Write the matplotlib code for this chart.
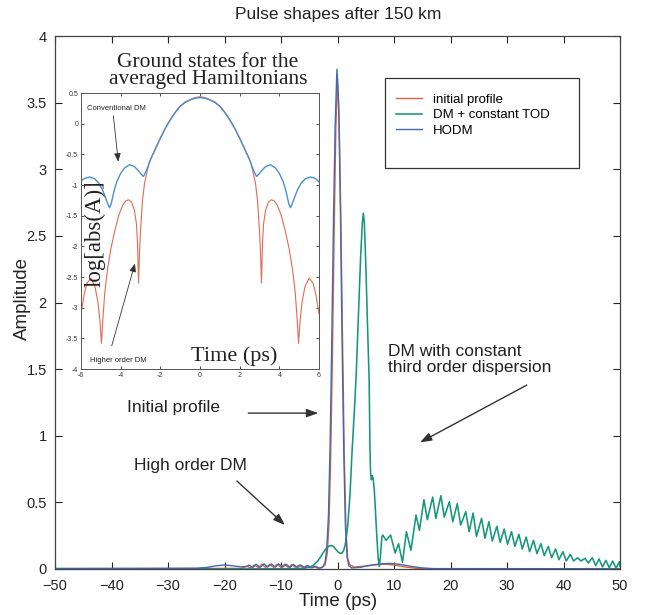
import matplotlib
matplotlib.use("Agg")
import matplotlib.pyplot as plt
from matplotlib.patches import Rectangle

# ---------------- main plot data ----------------
red_t = [-50, -30, -17, -16, -15.4, -14.7, -14.0, -13.4, -12.7, -12.0, -11.3, -10.7, -10.0,
         -9.4, -8.7, -8.1, -7.4, -6.8, -6.1, -5.5, -4.8, -4.2, -3.5, -2.8, -2.2, -1.8, -1.5,
         -1.2, -0.9, -0.6, -0.3, 0.0, 0.3, 0.6, 0.9, 1.2, 1.5, 1.8, 2.2, 3, 5, 7, 8.5, 10,
         12, 14, 16, 50]
red_a = [0.003, 0.003, 0.005, 0.02, 0.008, 0.03, 0.01, 0.035, 0.012, 0.035, 0.012, 0.035, 0.012,
         0.035, 0.012, 0.033, 0.012, 0.03, 0.01, 0.025, 0.008, 0.02, 0.005, 0.01, 0.03, 0.12, 0.35,
         0.85, 1.6, 2.5, 3.3, 3.68, 3.35, 2.6, 1.7, 0.85, 0.3, 0.08, 0.03, 0.015, 0.022, 0.032, 0.036, 0.03,
         0.015, 0.005, 0.002, 0.002]

blue_t = [-50, -25, -23, -21.5, -20, -18.5, -17, -16, -15.7, -15.0, -14.4, -13.7, -13.0, -12.4,
          -11.7, -11.0, -10.4, -9.7, -9.1, -8.4, -7.8, -7.1, -6.5, -5.8, -5.2, -4.5, -3.9, -3.2,
          -2.6, -2.2, -1.9, -1.6, -1.3, -1.0, -0.7, -0.4, -0.1, 0.2, 0.5, 0.8, 1.1, 1.4, 1.7,
          2.0, 2.5, 4, 6, 8, 9.5, 11, 13, 15, 17, 50]
blue_a = [0.004, 0.006, 0.012, 0.024, 0.03, 0.024, 0.016, 0.02, 0.03, 0.012, 0.035, 0.012, 0.038, 0.014,
          0.038, 0.014, 0.038, 0.014, 0.036, 0.012, 0.034, 0.012, 0.03, 0.01, 0.025, 0.008, 0.02, 0.006,
          0.015, 0.05, 0.15, 0.4, 0.95, 1.75, 2.65, 3.35, 3.75, 3.5, 2.75, 1.75, 0.9, 0.32, 0.09,
          0.025, 0.008, 0.012, 0.03, 0.04, 0.042, 0.035, 0.02, 0.008, 0.003, 0.002]

green_t = [-50, -20, -8, -6, -5, -4.2, -3.5, -3.0, -2.5, -2.0, -1.5, -1.1, -0.7, -0.3, 0.1, 0.5,
           0.8, 1.1, 1.4, 1.8, 2.2, 2.6, 3.0, 3.3, 3.7, 4.1, 4.4, 4.57, 4.75, 5.0, 5.3, 5.6, 5.75,
           5.85, 6.0, 6.15, 6.3, 6.5, 6.7, 6.95, 7.2, 7.4, 7.6, 7.85,
           8.0, 8.6, 9.4, 10.2, 10.8, 11.5, 12.2, 13.0, 13.9, 14.5, 15.3, 15.9, 16.85, 17.4,
           18.3, 18.9, 19.8, 20.4, 21.2, 21.8, 22.7, 23.3, 24.0, 24.6, 25.5, 26.1, 26.8, 27.4,
           28.2, 28.8, 29.5, 30.1, 30.8, 31.4, 32.1, 32.7, 33.4, 34.0, 34.7, 35.3, 36.0, 36.6,
           37.3, 37.9, 38.6, 39.2, 39.9, 40.5, 41.2, 41.8, 42.5, 43.1, 43.8, 44.4, 45.1, 45.7,
           46.3, 46.9, 47.5, 48.1, 48.7, 49.3, 49.9, 50.0]
green_a = [0.0, 0.0, 0.002, 0.005, 0.012, 0.03, 0.06, 0.09, 0.125, 0.155, 0.172, 0.176, 0.168, 0.148,
           0.128, 0.118, 0.12, 0.14, 0.19, 0.32, 0.55, 0.9, 1.2, 1.45, 1.9, 2.35, 2.6, 2.67, 2.6, 2.3,
           1.85, 1.42, 0.9, 0.72, 0.67, 0.7, 0.68, 0.6, 0.45, 0.25, 0.08, 0.02, 0.1, 0.24,
           0.255, 0.215, 0.255, 0.12, 0.19, 0.05, 0.28, 0.14, 0.405, 0.29, 0.52, 0.37, 0.54, 0.38,
           0.55, 0.39, 0.505, 0.355, 0.49, 0.33, 0.43, 0.28, 0.42, 0.245, 0.38, 0.23, 0.355, 0.21,
           0.32, 0.2, 0.3, 0.185, 0.28, 0.17, 0.26, 0.15, 0.24, 0.13, 0.215, 0.115, 0.19, 0.1,
           0.17, 0.085, 0.15, 0.07, 0.13, 0.06, 0.11, 0.06, 0.085, 0.06, 0.08, 0.045, 0.085, 0.025,
           0.075, 0.015, 0.065, 0.01, 0.06, 0.008, 0.055, 0.02]

x_ticks = [-50, -40, -30, -20, -10, 0, 10, 20, 30, 40, 50]
y_ticks = [0, 0.5, 1, 1.5, 2, 2.5, 3, 3.5, 4]
y_tick_labels = ["0", "0.5", "1", "1.5", "2", "2.5", "3", "3.5", "4"]
legend_labels = ["initial profile", "DM + constant TOD", "HODM"]

# ---------------- inset data ----------------
conv_x = [-6.0, -5.8, -5.56, -5.3, -5.1, -4.9, -4.75, -4.62, -4.56, -4.48, -4.35, -4.2, -4.0,
          -3.8, -3.55, -3.3, -3.1, -2.95, -2.85, -2.75, -2.6, -2.5, -2.2, -2.0, -1.75, -1.5,
          -1.25, -1.0, -0.75, -0.5, -0.25, 0.0, 0.25, 0.5, 0.75, 1.0, 1.25, 1.5, 1.75, 2.0,
          2.2, 2.5, 2.6, 2.75, 2.85, 2.95, 3.1, 3.3, 3.55, 3.8, 4.0, 4.2, 4.35, 4.48, 4.56,
          4.62, 4.75, 4.9, 5.1, 5.3, 5.56, 5.8, 6.0]
conv_y = [-0.93, -0.89, -0.87, -0.9, -0.97, -1.09, -1.22, -1.33, -1.37, -1.31, -1.12, -0.95, -0.81,
          -0.72, -0.67, -0.7, -0.77, -0.83, -0.86, -0.8, -0.68, -0.59, -0.38, -0.24, -0.08, 0.06,
          0.18, 0.28, 0.345, 0.385, 0.415, 0.425, 0.415, 0.385, 0.345, 0.28, 0.18, 0.06, -0.08, -0.24,
          -0.38, -0.59, -0.68, -0.8, -0.86, -0.83, -0.77, -0.7, -0.67, -0.72, -0.81, -0.95, -1.12, -1.31, -1.37,
          -1.33, -1.22, -1.09, -0.97, -0.9, -0.87, -0.89, -0.95]

hodm_x = [-6.0, -5.85, -5.7, -5.5, -5.3, -5.15, -5.05, -4.97, -4.9, -4.8, -4.65, -4.5, -4.3,
          -4.1, -3.9, -3.75, -3.6, -3.45, -3.3, -3.2, -3.15, -3.1, -3.05, -3.0, -2.9, -2.8,
          -2.6, -2.5, -2.2, -2.0, -1.75, -1.5, -1.25, -1.0, -0.75, -0.5, -0.25, 0.0, 0.25, 0.5,
          0.75, 1.0, 1.25, 1.5, 1.75, 2.0, 2.2, 2.5, 2.6, 2.8, 2.9, 3.0, 3.05, 3.1, 3.15, 3.2,
          3.3, 3.45, 3.6, 3.75, 3.9, 4.1, 4.3, 4.5, 4.65, 4.8, 4.9, 4.97, 5.05, 5.15, 5.3, 5.5,
          5.7, 5.85, 6.0]
hodm_y = [-3.1, -2.8, -2.6, -2.52, -2.65, -2.9, -3.2, -3.58, -3.2, -2.75, -2.35, -2.05, -1.75,
          -1.5, -1.33, -1.26, -1.24, -1.28, -1.42, -1.65, -1.95, -2.6, -2.1, -1.75, -1.25, -0.98,
          -0.68, -0.58, -0.37, -0.23, -0.07, 0.07, 0.19, 0.29, 0.355, 0.395, 0.425, 0.44, 0.425, 0.395,
          0.355, 0.29, 0.19, 0.07, -0.07, -0.23, -0.37, -0.58, -0.68, -0.98, -1.25, -1.75, -2.1, -2.6,
          -1.95, -1.65, -1.42, -1.28, -1.24, -1.26, -1.33, -1.5, -1.75, -2.05, -2.35, -2.75, -3.2,
          -3.58, -3.2, -2.9, -2.65, -2.52, -2.6, -2.8, -3.1]

inset_xticks = [-6, -4, -2, 0, 2, 4, 6]
inset_yticks = [0.5, 0, -0.5, -1, -1.5, -2, -2.5, -3, -3.5, -4]
inset_xtick_labels = ["-6", "-4", "-2", "0", "2", "4", "6"]
inset_ytick_labels = ["0.5", "0", "-0.5", "-1", "-1.5", "-2", "-2.5", "-3", "-3.5", "-4"]

# ---------------- styles ----------------
RED = "#e2603f"
GREEN = "#15977a"
BLUE = "#3f6bb0"
IN_BLUE = "#4b8fd0"
IN_RED = "#e26a52"
SANS = ["Liberation Sans", "DejaVu Sans"]
SERIF = ["Liberation Serif", "DejaVu Serif"]
plt.rcParams["font.family"] = SANS

W, H = 646, 615
fig = plt.figure(figsize=(W / 100, H / 100), dpi=100)

ax = fig.add_axes([55 / W, 1 - 569 / H, 565 / W, 533 / H])
l1, = ax.plot(red_t, red_a, color=RED, lw=1.0)
l2, = ax.plot(green_t, green_a, color=GREEN, lw=1.15, solid_joinstyle="round")
l3, = ax.plot(blue_t, blue_a, color=BLUE, lw=1.0)
ax.set_xlim(-50, 50)
ax.set_ylim(0, 4)
ax.set_xticks(x_ticks)
ax.set_yticks(y_ticks)
ax.set_yticklabels(y_tick_labels)
ax.tick_params(direction="in", top=True, right=True, length=5, width=0.8,
               labelsize=10.5, colors="#222222")
ax.tick_params(axis="x", pad=7)
ax.tick_params(axis="y", pad=6)
for s in ax.spines.values():
    s.set_color("#444444")
    s.set_linewidth(0.9)

fig.text(338 / W, 1 - 14 / H, "Pulse shapes after 150 km", ha="center", va="center",
         fontsize=12.5, color="#222222")
fig.text(22 / W, 1 - 298 / H, "Amplitude", ha="center", va="center", rotation=90,
         fontsize=13.5, color="#222222")
fig.text(338 / W, 1 - 601 / H, "Time (ps)", ha="center", va="center",
         fontsize=13.5, color="#222222")

# legend with a tall frame
ax.add_patch(Rectangle((0.584, 0.752), 0.343, 0.169, transform=ax.transAxes,
                       fill=True, facecolor="white", edgecolor="#333333", lw=0.9, zorder=4))
leg = ax.legend([l1, l2, l3], legend_labels, loc="upper left",
                bbox_to_anchor=(0.603, 0.892), frameon=False, fontsize=9.5,
                handlelength=2.0, handletextpad=0.8, labelspacing=0.25,
                borderpad=0, borderaxespad=0)
leg.set_zorder(5)

# annotations
arrow_kw = dict(arrowstyle="-|>,head_length=0.7,head_width=0.25", color="#333333",
                lw=1.0, shrinkA=0, shrinkB=0)
ax.text(-29.1, 1.21, "Initial profile", ha="center", va="center", fontsize=12.5, color="#222222")
ax.annotate("", xy=(-3.4, 1.17), xytext=(-15.8, 1.17), arrowprops=arrow_kw)
ax.text(8.9, 1.57, "DM with constant\nthird order dispersion", ha="left", va="center",
        fontsize=12.5, color="#222222", linespacing=1.1)
ax.annotate("", xy=(14.6, 0.95), xytext=(33.5, 1.38), arrowprops=arrow_kw)
ax.text(-26.1, 0.78, "High order DM", ha="center", va="center", fontsize=12.5, color="#222222")
ax.annotate("", xy=(-9.3, 0.33), xytext=(-17.8, 0.66), arrowprops=arrow_kw)

# ---------------- inset ----------------
ax2 = fig.add_axes([81 / W, 1 - 369 / H, 238 / W, 276 / H])
ax2.plot(hodm_x, hodm_y, color=IN_RED, lw=0.8)
ax2.plot(conv_x, conv_y, color=IN_BLUE, lw=1.0)
ax2.set_xlim(-6, 6)
ax2.set_ylim(-4, 0.5)
ax2.set_xticks(inset_xticks)
ax2.set_xticklabels(inset_xtick_labels)
ax2.set_yticks(inset_yticks)
ax2.set_yticklabels(inset_ytick_labels)
ax2.tick_params(direction="in", top=True, right=True, length=2.5, width=0.6,
                labelsize=5, colors="#333333", pad=2)
for s in ax2.spines.values():
    s.set_color("#555555")
    s.set_linewidth(0.7)

fig.text(208 / W, 1 - 71 / H, "Ground states for the\naveraged Hamiltonians", ha="center",
         va="center", fontsize=15.5, family=SERIF, color="#222222", linespacing=0.8)
ax2.text(0.06, 0.49, "log[abs(A)]", transform=ax2.transAxes, rotation=90, ha="center",
         va="center", fontsize=16.5, family=SERIF, color="#222222")
ax2.text(0.643, 0.045, "Time (ps)", transform=ax2.transAxes, ha="center", va="center",
         fontsize=16, family=SERIF, color="#222222")

small_arrow = dict(arrowstyle="-|>,head_length=0.5,head_width=0.2", color="#333333",
                   lw=0.6, shrinkA=0, shrinkB=0)
ax2.text(-5.71, 0.25, "Conventional DM", ha="left", va="center", fontsize=5.5, color="#222222")
ax2.annotate("", xy=(-4.12, -0.62), xytext=(-4.37, 0.13), arrowprops=small_arrow)
ax2.text(-5.55, -3.86, "Higher order DM", ha="left", va="center", fontsize=5.5, color="#222222")
ax2.annotate("", xy=(-3.28, -2.28), xytext=(-4.45, -3.62), arrowprops=small_arrow)

fig.savefig("out.png", dpi=100)
